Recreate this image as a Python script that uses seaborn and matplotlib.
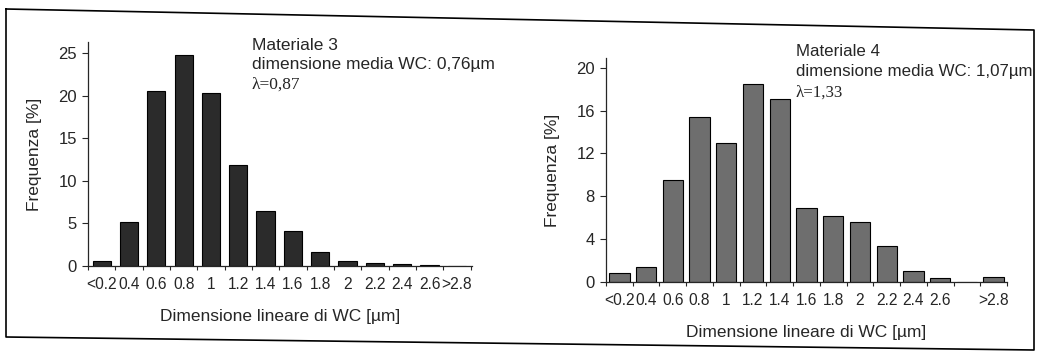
import pandas as pd
import matplotlib.pyplot as plt
import seaborn as sns
from matplotlib.lines import Line2D

# dati
classi_3 = ['<0.2', '0.4', '0.6', '0.8', '1', '1.2', '1.4', '1.6', '1.8', '2',
            '2.2', '2.4', '2.6', '>2.8']
freq_3 = [0.6, 5.2, 20.5, 24.8, 20.3, 11.9, 6.4, 4.1, 1.7, 0.6, 0.3, 0.2, 0.1, 0.05]

classi_4 = ['<0.2', '0.4', '0.6', '0.8', '1', '1.2', '1.4', '1.6', '1.8', '2',
            '2.2', '2.4', '2.6', '2.8', '>2.8']
etichette_4 = ['<0.2', '0.4', '0.6', '0.8', '1', '1.2', '1.4', '1.6', '1.8', '2',
               '2.2', '2.4', '2.6', '', '>2.8']
freq_4 = [0.8, 1.4, 9.5, 15.4, 13.0, 18.5, 17.1, 6.9, 6.2, 5.6, 3.4, 1.0, 0.4, 0.0, 0.5]

df3 = pd.DataFrame({'classe': classi_3, 'freq': freq_3})
df4 = pd.DataFrame({'classe': classi_4, 'freq': freq_4})

sns.set_style('ticks')
plt.rcParams['font.family'] = ['Liberation Sans', 'DejaVu Sans']

W, H = 1039, 357
fig = plt.figure(figsize=(W / 100, H / 100), dpi=100)

ax1 = fig.add_axes([88 / W, 1 - 266 / H, (472 - 88) / W, (266 - 42) / H])
ax2 = fig.add_axes([606 / W, 1 - 282 / H, (1007 - 606) / W, (282 - 58) / H])

sns.barplot(data=df3, x='classe', y='freq', ax=ax1, color='#2b2b2b',
            saturation=1, width=0.67, edgecolor='black', linewidth=0.8)
sns.barplot(data=df4, x='classe', y='freq', ax=ax2, color='#6e6e6e',
            saturation=1, width=0.76, edgecolor='black', linewidth=0.8)

ax1.set_ylim(0, 26.3)
ax1.set_xlim(-0.5, 13.55)
ax1.set_yticks([0, 5, 10, 15, 20, 25])
ax2.set_ylim(0, 20.9)
ax2.set_xlim(-0.4, 14.45)
ax2.set_yticks([0, 4, 8, 12, 16, 20])
ax2.set_xticks(range(len(classi_4)))
ax2.set_xticklabels(etichette_4)

for ax, n in [(ax1, len(classi_3)), (ax2, len(classi_4))]:
    sns.despine(ax=ax)
    ax.set_xticks([i + 0.5 for i in range(-1, n)], minor=True)
    ax.tick_params(axis='x', which='major', length=0, pad=8, labelsize=11.2)
    ax.tick_params(axis='x', which='minor', length=3, width=0.8, direction='out')
    ax.tick_params(axis='y', length=4, width=0.8, labelsize=12, pad=4)
    for s in ax.spines.values():
        s.set_linewidth(0.9)
    ax.set_xlabel('Dimensione lineare di WC [µm]', fontsize=12.5, labelpad=12)
    ax.set_ylabel('Frequenza [%]', fontsize=12.5, labelpad=12)
    ax.patch.set_alpha(0)

# testo con le didascalie
fig.text(252 / W, 1 - 38 / H, 'Materiale 3', fontsize=12.5, va='top')
fig.text(252 / W, 1 - 57 / H, 'dimensione media WC: 0,76µm', fontsize=12.5, va='top')
fig.text(252 / W, 1 - 77 / H, 'λ=0,87', fontsize=12.5, va='top',
         family=['Liberation Serif', 'DejaVu Serif'])
fig.text(796 / W, 1 - 44 / H, 'Materiale 4', fontsize=12.2, va='top')
fig.text(796 / W, 1 - 64 / H, 'dimensione media WC: 1,07µm', fontsize=12.2, va='top')
fig.text(796 / W, 1 - 85 / H, 'λ=1,33', fontsize=12.2, va='top',
         family=['Liberation Serif', 'DejaVu Serif'])

# cornice della scansione
xs = [6, 1034, 1034, 6, 6]
ys = [9, 30, 350, 337, 9]
fig.add_artist(Line2D([x / W for x in xs], [1 - y / H for y in ys],
                      color='black', linewidth=1.2))

fig.savefig('out.png', dpi=100, facecolor='white')
